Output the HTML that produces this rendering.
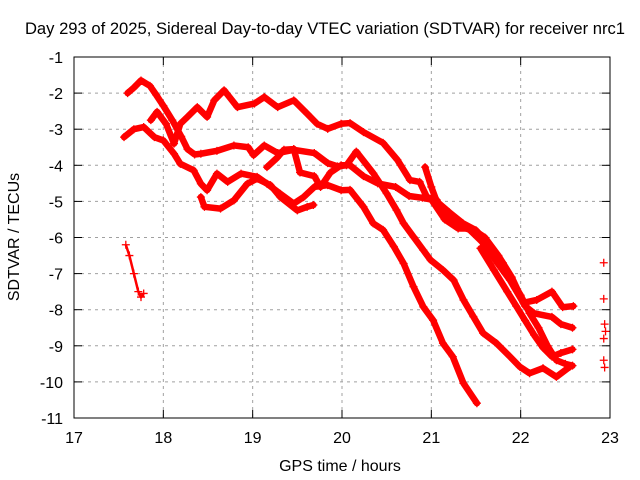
<!DOCTYPE html>
<html><head><meta charset="utf-8">
<style>
html,body{margin:0;padding:0;background:#fff;}
svg{display:block;font-family:"Liberation Sans",Arial,sans-serif;}
</style></head>
<body>
<svg id="chart" width="640" height="480" viewBox="0 0 640 480">
<rect x="0" y="0" width="640" height="480" fill="#fff"/>
<g id="grid"></g>
<g id="series"></g>
<rect x="74" y="57" width="536" height="361" fill="none" stroke="#000" stroke-width="1"/>
<g id="ticks"></g>
<text x="325" y="34" text-anchor="middle" font-size="16.6">Day 293 of 2025, Sidereal Day-to-day VTEC variation (SDTVAR) for receiver nrc1</text>
<text x="340" y="471" text-anchor="middle" font-size="16">GPS time / hours</text>
<text transform="translate(19,237) rotate(-90)" text-anchor="middle" font-size="16">SDTVAR / TECUs</text>
</svg>
<script>
const xTicks = [17,18,19,20,21,22,23];
const yTicks = [-1,-2,-3,-4,-5,-6,-7,-8,-9,-10,-11];
const trackA = [[17.6,-2.0],[17.67,-1.85],[17.75,-1.65],[17.85,-1.8],[17.92,-2.05],[18.0,-2.35],[18.1,-2.75],[18.2,-3.2],[18.27,-3.55],[18.35,-3.7],[18.42,-3.68],[18.6,-3.6],[18.79,-3.45],[18.95,-3.5],[19.01,-3.72],[19.13,-3.45],[19.28,-3.66],[19.46,-3.57],[19.69,-3.66],[19.84,-3.94],[19.95,-4.03],[20.05,-4.0],[20.16,-3.62],[20.35,-4.22],[20.5,-4.78],[20.61,-5.24],[20.69,-5.61],[20.8,-5.98],[20.91,-6.35],[20.99,-6.62],[21.13,-6.9],[21.25,-7.18],[21.36,-7.73],[21.47,-8.19],[21.58,-8.65],[21.73,-8.93],[21.88,-9.3],[21.99,-9.58],[22.1,-9.76],[22.25,-9.62],[22.4,-9.86],[22.55,-9.58]];
const trackB = [[17.86,-2.75],[17.93,-2.52],[18.03,-2.85],[18.12,-3.4],[18.19,-2.85],[18.27,-2.66],[18.38,-2.39],[18.49,-2.66],[18.57,-2.2],[18.68,-1.92],[18.83,-2.39],[19.02,-2.29],[19.13,-2.11],[19.28,-2.39],[19.46,-2.2],[19.61,-2.57],[19.72,-2.85],[19.84,-2.99],[19.99,-2.85],[20.09,-2.83],[20.24,-3.08],[20.46,-3.38],[20.62,-3.85],[20.76,-4.41],[20.87,-4.46],[20.95,-4.88],[21.06,-4.96],[21.17,-5.43],[21.29,-5.65],[21.43,-5.79],[21.58,-6.15],[21.74,-6.71],[21.88,-7.18],[22.03,-7.81],[22.18,-7.73],[22.35,-7.5],[22.47,-7.93],[22.59,-7.9]];
const trackC = [[17.56,-3.22],[17.67,-3.0],[17.78,-2.94],[17.9,-3.22],[18.0,-3.31],[18.12,-3.68],[18.19,-3.96],[18.34,-4.14],[18.42,-4.51],[18.49,-4.69],[18.6,-4.23],[18.72,-4.46],[18.87,-4.23],[19.05,-4.32],[19.16,-4.51],[19.31,-4.79],[19.46,-5.06],[19.57,-4.88],[19.69,-4.6],[19.84,-4.55],[19.99,-4.69],[20.09,-4.68],[20.24,-5.15],[20.35,-5.61],[20.46,-5.79],[20.58,-6.25],[20.69,-6.72],[20.8,-7.36],[20.91,-7.92],[21.02,-8.29],[21.13,-8.93],[21.24,-9.3],[21.36,-10.04],[21.51,-10.59]];
const trackD = [[18.42,-4.88],[18.46,-5.15],[18.64,-5.2],[18.79,-4.97],[18.94,-4.51],[19.05,-4.37],[19.2,-4.55],[19.31,-4.88],[19.5,-5.25],[19.61,-5.15],[19.68,-5.1]];
const trackE = [[19.16,-4.05],[19.27,-3.8],[19.35,-3.57],[19.46,-3.55],[19.53,-4.2],[19.69,-4.3],[19.76,-4.6],[19.87,-4.2],[19.99,-4.0],[20.09,-4.0],[20.24,-4.3],[20.4,-4.5],[20.6,-4.6],[20.75,-4.85],[20.9,-4.9],[21.0,-4.95],[21.15,-5.5],[21.3,-5.75],[21.45,-5.75],[21.6,-6.0],[21.75,-6.5],[21.9,-7.1],[22.05,-7.9],[22.15,-8.1],[22.35,-8.2],[22.45,-8.4],[22.58,-8.5]];
const trackF = [[20.93,-4.05],[21.0,-4.6],[21.06,-5.0],[21.2,-5.3],[21.35,-5.6],[21.5,-5.8],[21.65,-6.2],[21.8,-6.7],[21.9,-7.2],[22.0,-7.6],[22.1,-8.1],[22.2,-8.5],[22.3,-9.0],[22.4,-9.4],[22.5,-9.5],[22.58,-9.55]];
const trackG = [[21.55,-6.3],[21.7,-6.9],[21.85,-7.5],[21.95,-7.9],[22.05,-8.3],[22.15,-8.7],[22.25,-9.05],[22.35,-9.3],[22.45,-9.2],[22.58,-9.1]];
const trackH = [[17.58,-6.2],[17.62,-6.5],[17.67,-7.0],[17.72,-7.5],[17.75,-7.65],[17.78,-7.55]];
const trackI = [[22.93,-6.7],[22.93,-7.7],[22.94,-8.4],[22.95,-8.6],[22.93,-8.8],[22.93,-9.4],[22.94,-9.6]];
const tracks = [trackA,trackB,trackC,trackD,trackE,trackF,trackG];

const NS='http://www.w3.org/2000/svg';
const X0=74,X1=610,Y0=57,Y1=418;
function xs(t){return X0+(t-17)/6*(X1-X0);}
function ys(v){return Y0+(-1-v)/10*(Y1-Y0);}
function mk(tag,attrs,parent){const e=document.createElementNS(NS,tag);for(const k in attrs)e.setAttribute(k,attrs[k]);parent.appendChild(e);return e;}
const grid=document.getElementById('grid'),ticks=document.getElementById('ticks'),ser=document.getElementById('series');
xTicks.forEach(t=>{
  const x=xs(t);
  if(t>17&&t<23){const g=mk('line',{x1:x,y1:Y0,x2:x,y2:Y1,stroke:'#a0a0a0','stroke-dasharray':'3,4'},grid);
  
  }
  const a=mk('line',{x1:x,y1:Y1,x2:x,y2:Y1-8,stroke:'#000'},ticks);
  
  
  const b=mk('line',{x1:x,y1:Y0,x2:x,y2:Y0+8,stroke:'#000'},ticks);
  
  
  const l=mk('text',{x:x,y:443,'text-anchor':'middle','font-size':'16'},ticks);l.textContent=t;
  
  
});
yTicks.forEach(v=>{
  const y=ys(v);
  if(v<-1&&v>-11){const g=mk('line',{x1:X0,y1:y,x2:X1,y2:y,stroke:'#a0a0a0','stroke-dasharray':'3,4'},grid);
  
  }
  const a=mk('line',{x1:X0,y1:y,x2:X0+8,y2:y,stroke:'#000'},ticks);
  
  
  const b=mk('line',{x1:X1,y1:y,x2:X1-8,y2:y,stroke:'#000'},ticks);
  
  
  const l=mk('text',{x:63,y:y+6,'text-anchor':'end','font-size':'16'},ticks);l.textContent=v;
  
  
});
function plus(t,v){
  const x=xs(t),y=ys(v);
  const p=mk('path',{d:`M${x-4},${y}H${x+4}M${x},${y-4}V${y+4}`,stroke:'#f00','stroke-width':'1.3',fill:'none'},ser);
  
  
}
tracks.forEach(tr=>{
  const pl=mk('polyline',{points:tr.map(p=>xs(p[0])+','+ys(p[1])).join(' '),fill:'none',stroke:'#f00','stroke-width':'6.5','stroke-linejoin':'round','stroke-linecap':'round'},ser);
  
  
  tr.forEach(p=>plus(p[0],p[1]));
});
const ph=mk('polyline',{points:trackH.map(p=>xs(p[0])+','+ys(p[1])).join(' '),fill:'none',stroke:'#f00','stroke-width':'2.5'},ser);


trackH.forEach(p=>plus(p[0],p[1]));
trackI.forEach(p=>plus(p[0],p[1]));
</script>
</body></html>
